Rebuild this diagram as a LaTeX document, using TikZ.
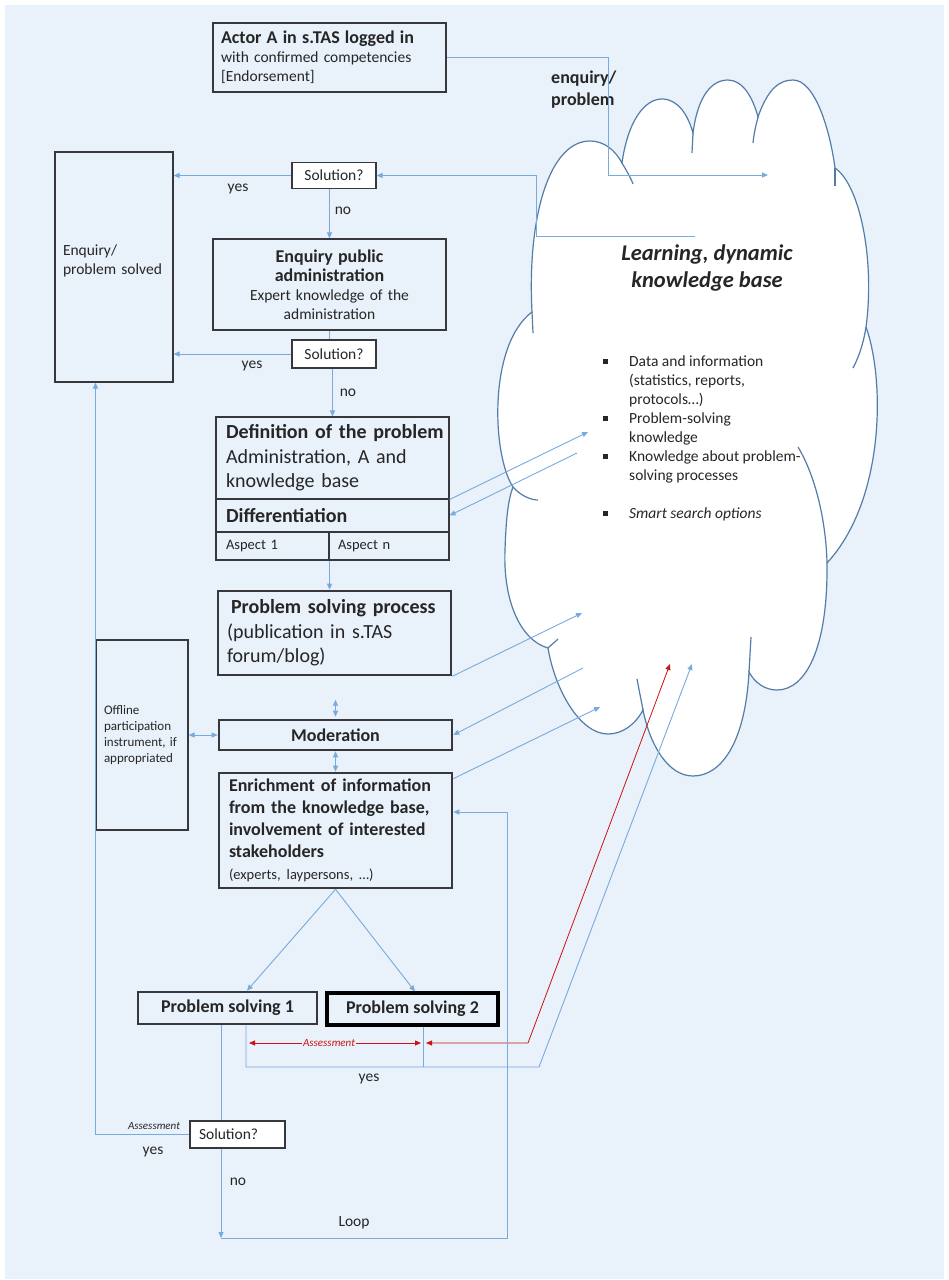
\documentclass[tikz,border=0pt]{standalone}
\usepackage{fontspec}
\setmainfont{Carlito}
\usetikzlibrary{arrows.meta}
\tikzset{>={Triangle[length=6pt,width=5pt]}}
\definecolor{bgblue}{RGB}{233,241,250}
\definecolor{connblue}{RGB}{120,170,222}
\definecolor{cloudline}{RGB}{84,124,168}
\definecolor{boxline}{RGB}{55,55,60}
\definecolor{textdark}{RGB}{38,38,38}
\definecolor{assessred}{RGB}{200,20,20}
\newcommand{\fsN}{\fontsize{15.5}{19}\selectfont}
\newcommand{\fsM}{\fontsize{18}{22}\selectfont}
\newcommand{\fsL}{\fontsize{20}{24.5}\selectfont}
\newcommand{\fsS}{\fontsize{13}{16}\selectfont}
\newcommand{\fsX}{\fontsize{14.5}{18}\selectfont}
\newcommand{\fsT}{\fontsize{11}{13}\selectfont}
\newcommand{\fsH}{\fontsize{22.5}{27}\selectfont}

\begin{document}
\begin{tikzpicture}[x=1pt, y=-1pt,
                    every node/.style={text=textdark, font=\fsN},
                    conn/.style={connblue, line width=0.9pt},
                    redconn/.style={assessred, line width=0.8pt},
                    plainbox/.style={draw=boxline, line width=1.1pt, inner xsep=8pt, inner ysep=2pt},
                    thickbox/.style={plainbox, line width=2.6pt},
                    solbox/.style={plainbox, fill=white, minimum width=84pt, minimum height=26pt},
                    cloudedge/.style={cloudline, line width=1.2pt}]
  \useasboundingbox (0,0) rectangle (948,1280);
  \fill[bgblue] (5,5) rectangle (944,1279);

  % knowledge base cloud
  \filldraw[cloudedge, fill=white]
    (513,487) .. controls (492,455) and (488,345) .. (532,312)
    .. controls (527,215) and (550,141) .. (590,141)
    .. controls (604,141) and (615,150) .. (622,163)
    .. controls (628,120) and (645,99) .. (662,99)
    .. controls (678,99) and (688,115) .. (693,133)
    .. controls (698,95) and (712,80) .. (728,80)
    .. controls (743,80) and (753,98) .. (758,117)
    .. controls (768,88) and (780,80) .. (793,80)
    .. controls (815,80) and (830,130) .. (835,168)
    .. controls (860,185) and (875,260) .. (866,327)
    .. controls (885,380) and (885,500) .. (827,563)
    .. controls (828,650) and (805,690) .. (777,690)
    .. controls (765,690) and (755,683) .. (749,672)
    .. controls (745,745) and (720,776) .. (693,776)
    .. controls (668,776) and (650,745) .. (643,710)
    .. controls (635,725) and (622,734) .. (608,734)
    .. controls (580,734) and (555,690) .. (548,648)
    .. controls (520,640) and (503,600) .. (505,550)
    .. controls (506,520) and (508,500) .. (513,487) -- cycle;
  \foreach \a/\b in {{532,312}/{533,333}, {693,133}/{692,153}, {835,168}/{835,186},
                     {749,672}/{751,637}, {643,710}/{637,679}}
    \draw[cloudedge] (\a) -- (\b);
  \draw[cloudedge]
    (622,163) .. controls (626,170) and (630,176) .. (633,184)
    (758,117) .. controls (756,125) and (754,133) .. (753,143)
    (866,327) .. controls (864,340) and (860,355) .. (853,368)
    (827,563) .. controls (826,520) and (815,475) .. (798,447)
    (548,648) .. controls (551,645) and (555,642) .. (558,639)
    (513,487) .. controls (520,495) and (530,500) .. (538,500);

  \node (kbtitle) [font=\fsH\bfseries\itshape, align=center] at (707,268) {Learning, dynamic\\knowledge base};
  \node (kblist) [anchor=north west, inner sep=0pt] at (603,353) {%
    \begin{tabular}{@{}p{26pt}@{}l@{}}
      \rule[3pt]{4.5pt}{4.5pt} & Data and information\\
                               & (statistics, reports,\\
                               & protocols…)\\
      \rule[3pt]{4.5pt}{4.5pt} & Problem-solving\\
                               & knowledge\\
      \rule[3pt]{4.5pt}{4.5pt} & Knowledge about problem-\\
                               & solving processes\\[19pt]
      \rule[3pt]{4.5pt}{4.5pt} & \textit{Smart search options}
    \end{tabular}};

  % boxes
  \node (actor) [plainbox, text width=217pt, minimum height=69pt, align=left] at (329.5,57.5)
    {{\fsM\bfseries Actor A in s.TAS logged in}\\with confirmed competencies\\{[Endorsement]}};
  \node (enqlbl) [anchor=west, align=left, font=\fsM\bfseries, inner sep=0pt] at (551,90) {enquiry/\\problem};
  \node (solved) [plainbox, text width=102pt, minimum height=230pt, align=left] at (114,267) {Enquiry/\\problem solved\\[-5pt]\mbox{}};
  \node (sol1) [solbox] at (334,175.5) {Solution?};
  \node (enqadm) [plainbox, text width=217pt, minimum height=91pt, align=center] at (329.5,284.5)
    {{\fsM\bfseries Enquiry public}\\{\fsM\bfseries administration}\\Expert knowledge of the\\administration};
  \node (sol2) [solbox, minimum height=28pt] at (334,354) {Solution?};
  \node (defbox) [plainbox, inner xsep=10pt, text width=213pt, minimum height=82pt, align=left, font=\fsL] at (332.5,458)
    {\mbox{\textbf{Definition of the problem}}\\\mbox{Administration, A and}\\\mbox{knowledge base}};
  \node (diffbox) [plainbox, inner xsep=10pt, text width=213pt, minimum height=33pt, align=left, font=\fsL\bfseries] at (332.5,515.5) {Differentiation};
  \node (asp1) [plainbox, inner xsep=10pt, text width=93pt, minimum height=28pt, align=left, font=\fsX] at (272.5,546) {Aspect 1};
  \node (aspn) [plainbox, inner xsep=9pt, text width=102pt, minimum height=28pt, align=left, font=\fsX] at (389,546) {Aspect n};
  \node (psp) [thickbox, inner xsep=9pt, text width=215pt, minimum height=84pt, align=left, font=\fsL] at (334.5,633)
    {\hspace*{4pt}\mbox{\textbf{Problem solving process}}\\(publication in s.TAS\\forum/blog)};
  \node (offline) [plainbox, text width=76pt, minimum height=190pt, align=left, font=\fsS] at (142,735)
    {Offline\\participation\\instrument, if\\appropriated};
  \node (moder) [thickbox, minimum width=233pt, minimum height=30pt, font=\fsM\bfseries] at (335.5,735) {Moderation};
  \node (enrich) [thickbox, inner xsep=10pt, text width=213pt, minimum height=115pt, align=left, font=\fsM\bfseries] at (335.5,830.5)
    {Enrichment of information\\from the knowledge base,\\involvement of interested\\stakeholders\\{\fsX\mdseries (experts, laypersons, …)}};
  \node (ps1) [thickbox, minimum width=179pt, minimum height=32pt, font=\fsM\bfseries] at (227.5,1008) {Problem solving 1};
  \node (ps2) [thickbox, draw=black, line width=3.2pt, minimum width=171pt, minimum height=32pt, font=\fsM\bfseries] at (412.5,1009) {Problem solving 2};
  \node (sol3) [solbox, minimum width=95pt, minimum height=27pt, text width=77pt, inner xsep=9pt, align=left] at (237.5,1134.5) {Solution?};

  % labels
  \foreach \name/\pos/\txt in {yesA/{238,189}/yes, noA/{343,211}/no, yesB/{252,366}/yes, noB/{348,393}/no,
                               yesC/{369,1079}/yes, yesD/{153,1152}/yes, noC/{238,1182}/no, loopL/{354,1223}/Loop}
    \node (\name) at (\pos) {\txt};
  \node (asmsol) [font=\fsT\itshape] at (154,1126) {Assessment};

  % free ends inside the cloud and bends
  \coordinate (kbin1) at (768,175);
  \coordinate (kbout1) at (695,236);
  \coordinate (kbin2) at (588,432);
  \coordinate (kbout2) at (577,453);
  \coordinate (kbin3) at (582,613);
  \coordinate (kbout3) at (583,668);
  \coordinate (kbin4) at (600,707);
  \coordinate (kbin5) at (692,664);
  \coordinate (kbin6) at (670,664);
  \coordinate (enqbend) at (608,175);
  \coordinate (solbend) at (536,236);
  \coordinate (yesbend) at (539,1067);
  \coordinate (asmbend) at (528,1043);
  \coordinate (asmL) at (249,1043);
  \coordinate (asmR) at (421,1043);
  \coordinate (asmR2) at (426,1043);
  \coordinate (loopcorner) at (221,1238);
  \coordinate (loopright) at (507,1238);

  % connectors
  \draw[conn,->] (actor.east) -| (enqbend) -- (kbin1);
  \draw[conn,->] (kbout1) -- (solbend) |- (sol1.east);
  \draw[conn,->] (sol1.west) -- (sol1.west -| solved.east);
  \draw[conn,->] (enqadm.north |- sol1.south) -- (enqadm.north);
  \draw[conn] (enqadm.south) -- (enqadm.south |- sol2.north);
  \draw[conn,->] (sol2.west) -- (sol2.west -| solved.east);
  \draw[conn,->] (defbox.north |- sol2.south) -- (defbox.north);
  \draw[conn,->] (asp1.south east) -- (asp1.south east |- psp.north);
  \draw[conn,->] (defbox.south east) -- (kbin2);
  \draw[conn,->] (kbout2) -- (diffbox.east);
  \draw[conn,->] (psp.south east) -- (kbin3);
  \draw[conn,->] (kbout3) -- (moder.east);
  \draw[conn,->] ([yshift=-7pt]enrich.north east) -- (kbin4);
  \draw[conn,<->] ([yshift=2pt]moder.north) -- ++(0,-17);
  \draw[conn,<->] (moder.south) -- (enrich.north);
  \draw[conn,<->] (offline.east) -- (moder.west);
  \draw[conn,->] (enrich.south) -- ([xshift=19.5pt]ps1.north);
  \draw[conn,->] (enrich.south) -- ([xshift=2.5pt]ps2.north);
  \draw[conn,->] ([xshift=18.5pt]ps1.south) |- (yesbend) -- (kbin5);
  \draw[conn] ([xshift=10.5pt]ps2.south) -- ([xshift=10.5pt]ps2.south |- yesbend);
  \draw[redconn,<->] (asmL) -- node[pos=0.465, fill=bgblue, inner sep=1pt, font=\fsT\itshape, text=assessred] (asmtxt) {Assessment} (asmR);
  \draw[redconn,<->] (kbin6) -- (asmbend) -- (asmR2);
  \draw[conn] (ps1.south -| loopcorner) -- (sol3.north -| loopcorner);
  \draw[conn,->] (sol3.south -| loopcorner) -- (loopcorner);
  \draw[conn,->] (loopcorner) -- (loopright) |- ([yshift=18.5pt]enrich.east);
  \draw[conn,->] (sol3.west) -| (offline.west |- solved.south);
\end{tikzpicture}
\end{document}
